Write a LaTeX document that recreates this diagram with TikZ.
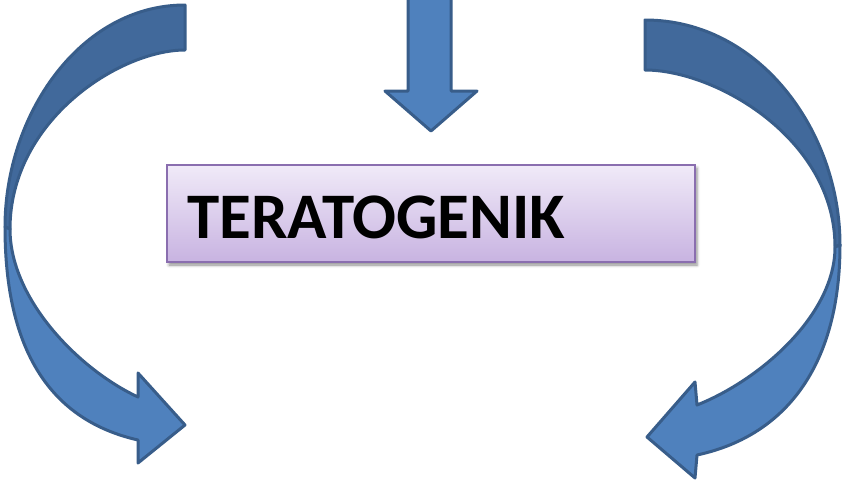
\documentclass[tikz,border=0pt]{standalone}
\usepackage{fontspec}
\setmainfont{Carlito}
\usetikzlibrary{shadows.blur}
\definecolor{arrowlight}{HTML}{4F81BD}
\definecolor{arrowdark}{HTML}{41699B}
\definecolor{arrowline}{HTML}{385D8A}
\definecolor{boxtop}{HTML}{F0EAF8}
\definecolor{boxbot}{HTML}{C8B3E1}
\definecolor{boxline}{HTML}{8A6EAF}
\begin{document}
\begin{tikzpicture}[x=1pt,y=-1pt,
  band/.style={draw=arrowline,line width=3pt,line join=round},
  backband/.style={band,fill=arrowdark},
  frontband/.style={band,fill=arrowlight},
  boxnode/.style={draw=boxline,line width=1.3pt,top color=boxtop,bottom color=boxbot,
    minimum width=528pt,minimum height=97pt,inner sep=0pt,
    blur shadow={shadow xshift=2pt,shadow yshift=-3pt,shadow blur radius=3pt,shadow opacity=45}},
  labeltext/.style={anchor=base west,inner sep=0pt,font=\bfseries\fontsize{65}{65}\selectfont,text=black}]
\useasboundingbox (0,0) rectangle (846,483);
% box
\node[boxnode] (box) at (431,213.5) {};
\node[labeltext] (label) at (187,238) {TERATOGENIK};
% down arrow
\filldraw[frontband] (408,-5) -- (408,91) -- (385,91) -- (431,131) -- (477,91) -- (451,91) -- (451,-5) -- cycle;
% left curved arrow
\filldraw[backband] (185,5) .. controls (80,5) and (5,115) .. (5,227) -- (10,229) .. controls (10,120) and (120,50) .. (185,50) -- cycle;
\filldraw[frontband] (5,227) .. controls (5,350) and (50,420) .. (138,440) -- (138,463) -- (185,425) -- (138,373) -- (138,397) .. controls (80,370) and (10,300) .. (10,229) -- cycle;
% right curved arrow
\filldraw[backband] (645,20) .. controls (759,20) and (840,131) .. (840,245) -- (835,247) .. controls (835,139) and (716,70) .. (645,70) -- cycle;
\filldraw[frontband] (840,245) .. controls (840,360) and (790,435) .. (697,455) -- (695,478) -- (647,437) -- (695,382) -- (697,405) .. controls (760,380) and (835,315) .. (835,247) -- cycle;
\end{tikzpicture}
\end{document}
